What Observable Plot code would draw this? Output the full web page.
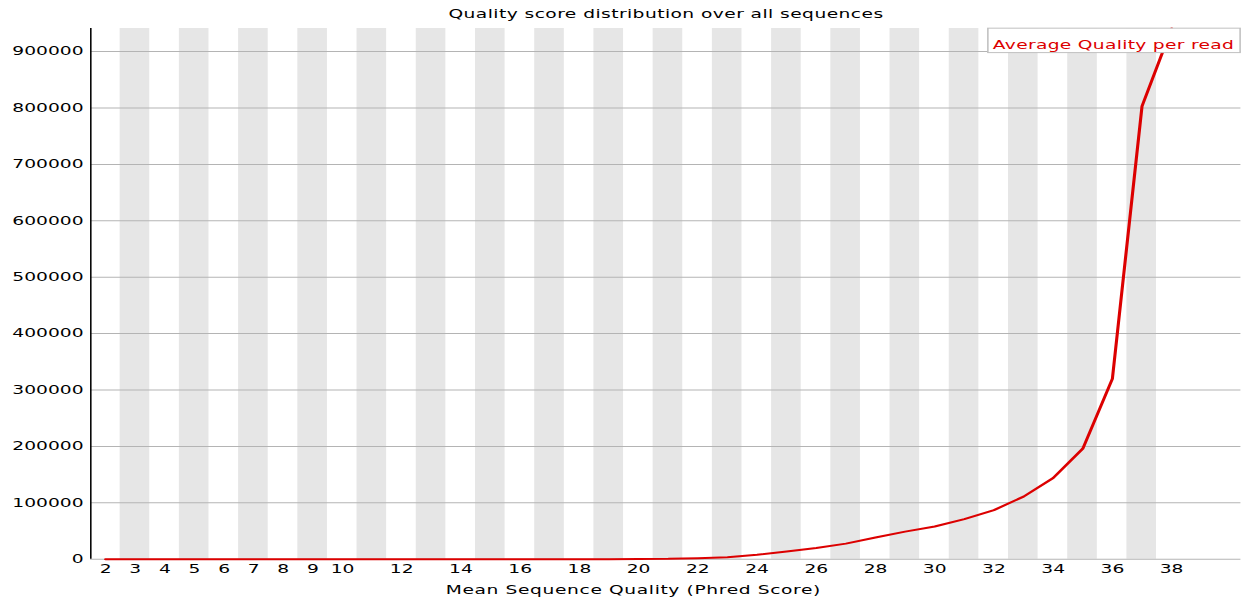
<!DOCTYPE html>
<html>
<head>
<meta charset="utf-8">
<script src="https://cdn.jsdelivr.net/npm/d3@7"></script>
<script src="https://cdn.jsdelivr.net/npm/@observablehq/plot@0.6"></script>
<style>
  html, body { margin: 0; padding: 0; background: white; }
  #chart { width: 1244px; height: 601px; overflow: hidden; }
</style>
</head>
<body>
<div id="chart"></div>
<script>
// ---- data ----
const qualityScores = [2,3,4,5,6,7,8,9,10,11,12,13,14,15,16,17,18,19,20,21,22,23,24,25,26,27,28,29,30,31,32,33,34,35,36,37,38];
const readCounts = [3,2,2,2,2,2,3,3,4,4,5,6,10,15,25,40,70,120,250,600,1900,3600,7900,13500,19800,27600,38500,48900,58000,71000,87000,111000,144000,196000,320000,803000,941000];
const xTickLabels = [2,3,4,5,6,7,8,9,10,12,14,16,18,20,22,24,26,28,30,32,34,36,38];
const yTickValues = [0,100000,200000,300000,400000,500000,600000,700000,800000,900000];
const shadedScores = [3,5,7,9,11,13,15,17,19,21,23,25,27,29,31,33,35,37];
const xDomain = [1.5, 40.35];
const titleText = "Quality score distribution over all sequences";
const xLabelText = "Mean Sequence Quality (Phred Score)";
const legendText = "Average Quality per read";

const yMax = d3.max(readCounts);
const lineColor = "#dc0000";

// The reference is an 800px-wide FastQC image stretched to 1244px; draw at 800 and stretch.
const baseWidth = 800, outWidth = 1244, height = 601;

const chart = Plot.plot({
  width: baseWidth,
  height: height,
  marginLeft: 57.9,
  marginRight: 2.3,
  marginTop: 28,
  marginBottom: 42.3,
  style: { fontFamily: "DejaVu Sans", fontSize: "12px", color: "black", background: "white" },
  x: { domain: xDomain, ticks: xTickLabels, tickSize: 0, tickPadding: 5.6, tickFormat: d => String(d), label: null },
  y: { domain: [0, yMax], ticks: yTickValues, tickSize: 0, tickPadding: 4.7, tickFormat: d => String(d), label: null },
  marks: [
    Plot.rect(shadedScores, { x1: d => d - 0.5, x2: d => d + 0.5, y1: () => 0, y2: () => yMax, fill: "#e6e6e6" }),
    Plot.ruleY(yTickValues, { stroke: "#b4b4b4", strokeWidth: 1 }),
    Plot.ruleX([xDomain[0]], { stroke: "black", strokeWidth: 1 }),
    Plot.line(qualityScores, { x: d => d, y: (d, i) => readCounts[i], stroke: lineColor, strokeWidth: 2 }),
    Plot.text([titleText], { text: d => d, frameAnchor: "top", lineAnchor: "middle", dy: -14.8, fill: "black", fontSize: 12 }),
    Plot.text([xLabelText], { text: d => d, frameAnchor: "bottom", lineAnchor: "middle", dy: 30.5, dx: -21, fill: "black", fontSize: 12 }),
    Plot.text([legendText], { text: d => d, frameAnchor: "top-right", textAnchor: "end", lineAnchor: "middle", dx: -4.5, dy: 16.2, fill: lineColor, fontSize: 12 })
  ]
});

chart.setAttribute("width", outWidth);
chart.setAttribute("height", height);
chart.setAttribute("viewBox", `0 0 ${baseWidth} ${height}`);
chart.setAttribute("preserveAspectRatio", "none");
chart.style.width = outWidth + "px";
chart.style.height = height + "px";
chart.style.maxWidth = "none";
document.getElementById("chart").appendChild(chart);

// the reference font runs slightly wider than DejaVu Sans: widen with letter spacing
const spacing = { [titleText]: 0.28, [xLabelText]: 0.4, [legendText]: 0.2 };
chart.querySelectorAll("text").forEach(t => {
  if (spacing[t.textContent] != null) t.setAttribute("letter-spacing", spacing[t.textContent]);
});

// legend box behind the legend text (same coordinate system as the text)
const legendNode = Array.from(chart.querySelectorAll("text")).find(t => t.textContent === legendText);
if (legendNode) {
  const bb = legendNode.getBBox();
  const rect = document.createElementNS("http://www.w3.org/2000/svg", "rect");
  rect.setAttribute("x", bb.x - 3.2);
  rect.setAttribute("y", bb.y - 8.9);
  rect.setAttribute("width", bb.width + 7);
  rect.setAttribute("height", bb.height + 9.9);
  rect.setAttribute("fill", "white");
  rect.setAttribute("stroke", "#c0c0c0");
  rect.setAttribute("stroke-width", 1);
  const tr = legendNode.getAttribute("transform");
  if (tr) rect.setAttribute("transform", tr);
  legendNode.parentNode.insertBefore(rect, legendNode);
}
</script>
</body>
</html>
